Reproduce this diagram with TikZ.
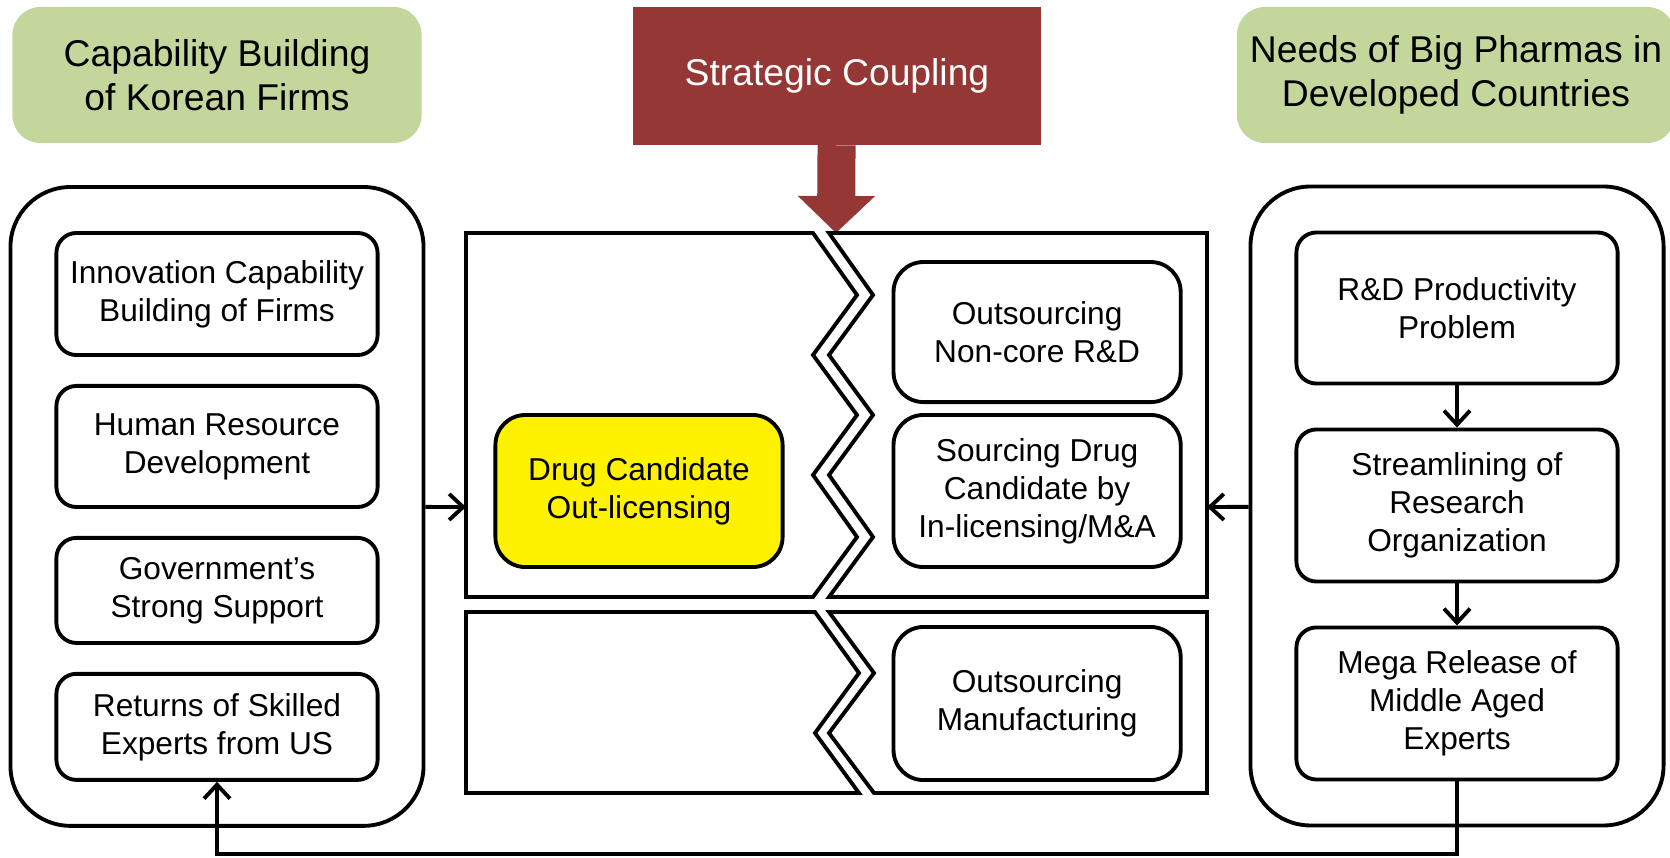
\documentclass[tikz,border=0pt]{standalone}
\usepackage{fontspec}
\setmainfont{Liberation Sans}
\usetikzlibrary{positioning, fit, arrows.meta}
\definecolor{headgreen}{HTML}{C3D69B}
\definecolor{couplered}{HTML}{953735}
\tikzset{
  headbox/.style={fill=headgreen, rounded corners=0.28cm, minimum height=1.36cm, inner sep=0pt, align=center, font=\fontsize{10.6}{12.5}\selectfont},
  couplebox/.style={fill=couplered, text=white, minimum width=4.08cm, minimum height=1.37cm, align=center, font=\fontsize{10.6}{12.5}\selectfont},
  couplearrow/.style={draw=couplered, line width=0.38cm, -{Triangle[length=0.37cm, width=0.75cm]}},
  group/.style={draw, line width=1.1pt, rounded corners=0.6cm, inner sep=0.44cm},
  item/.style={draw, line width=1.1pt, rounded corners=0.2cm, align=center, inner sep=0pt, minimum width=3.21cm, font=\fontsize{9}{10.8}\selectfont},
  offer/.style={item, rounded corners=0.3cm, minimum width=2.87cm},
  panel/.style={draw, line width=1.1pt, line join=miter},
  link/.style={line width=1.1pt, -{Straight Barb[length=1.4mm, width=2.6mm]}}
}

\begin{document}
\begin{tikzpicture}[x=0.01cm, y=-0.01cm, node distance=0.27cm]
\useasboundingbox (0,0) rectangle (1670,857);

% headings
\node[headbox, minimum width=4.09cm](korea) at (217,75){Capability Building\\of Korean Firms};
\node[headbox, minimum width=4.38cm](pharma) at (1456,75){Needs of Big Pharmas in\\Developed Countries};
\node[couplebox](coupling) at (837,76){Strategic Coupling};
\coordinate (join) at (836,233);
\draw[couplearrow] (coupling) -- (join);

% Korean side
\node[item, minimum height=1.22cm](innov) at (217,294){Innovation Capability\\Building of Firms};
\node[item, minimum height=1.21cm, below=of innov](human){Human Resource\\Development};
\node[item, minimum height=1.05cm, below=of human](gov){Government’s\\Strong Support};
\node[item, minimum height=1.06cm, below=of gov](returns){Returns of Skilled\\Experts from US};
\node[group, fit=(innov)(returns)](firms){};

% big pharma side
\begin{scope}[node distance=0.42cm]
\node[item, minimum height=1.51cm](rdprob) at (1457,308){R\&D Productivity\\Problem};
\node[item, minimum height=1.52cm, below=of rdprob](stream){Streamlining of\\Research\\Organization};
\node[item, minimum height=1.52cm, below=of stream](mega){Mega Release of\\Middle Aged\\Experts};
\end{scope}
\node[group, fit=(rdprob)(mega)](pharmas){};

% coupling panels
\draw[panel] (466,233) -- (813,233) -- (857,295) -- (813,355) -- (857,415) -- (813,475) -- (857,537) -- (813,597) -- (466,597) -- cycle;
\draw[panel] (829,233) -- (1207,233) -- (1207,597) -- (829,597) -- (873,537) -- (829,475) -- (873,415) -- (829,355) -- (873,295) -- cycle;
\draw[panel] (466,612) -- (815,612) -- (859,673) -- (815,733) -- (859,793) -- (466,793) -- cycle;
\draw[panel] (829,612) -- (1207,612) -- (1207,793) -- (874,793) -- (829,733) -- (874,673) -- cycle;
\coordinate (panelW) at (466,507);
\coordinate (panelE) at (1207,507);

\node[offer, fill=yellow, minimum height=1.52cm](outlic) at (639,491){Drug Candidate\\Out-licensing};
\node[offer, minimum height=1.52cm, right=1.07cm of outlic](sourcing){Sourcing Drug\\Candidate by\\In-licensing/M\&A};
\node[offer, minimum height=1.40cm, above=0.09cm of sourcing](noncore){Outsourcing\\Non-core R\&D};
\node[offer, minimum height=1.53cm, below=0.56cm of sourcing](manuf){Outsourcing\\Manufacturing};

% connectors
\coordinate (loop) at (800,854);
\draw[link] (firms) -- (panelW);
\draw[link] (pharmas) -- (panelE);
\draw[link] (rdprob) -- (stream);
\draw[link] (stream) -- (mega);
\draw[link] (mega.south) |- (loop) -| (returns.south);
\end{tikzpicture}
\end{document}
